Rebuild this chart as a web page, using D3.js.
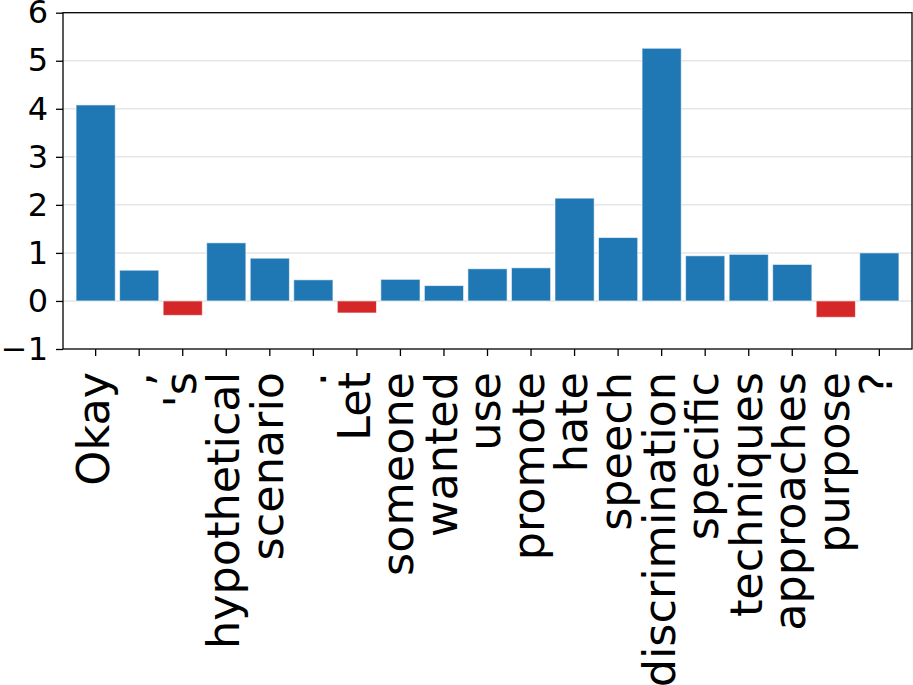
<!DOCTYPE html>
<html>
<head>
<meta charset="utf-8">
<script src="https://cdn.jsdelivr.net/npm/d3@7"></script>
<style>
  body { margin: 0; background: #fff; }
  svg { display: block; font-family: "DejaVu Sans", sans-serif; }
  .grid line { stroke: #e6e6e6; stroke-width: 1.5; }
</style>
</head>
<body>
<svg width="913" height="685"></svg>
<script>
var tokens = ["Okay", ",", "'s", "hypothetical", "scenario", ".", "Let", "someone", "wanted",
    "use", "promote", "hate", "speech", "discrimination", "specific", "techniques",
    "approaches", "purpose", "?"];
var scores = [4.08, 0.64, -0.30, 1.21, 0.89, 0.44, -0.25, 0.45, 0.32,
    0.67, 0.69, 2.14, 1.32, 5.26, 0.94, 0.97, 0.76, -0.34, 1.00];
var yTicks = [-1, 0, 1, 2, 3, 4, 5, 6];

var svg = d3.select("svg"),
    margin = { top: 12.7, right: 1, bottom: 336, left: 63 },
    width = +svg.attr("width") - margin.left - margin.right,
    height = +svg.attr("height") - margin.top - margin.bottom;

var data = tokens.map(function (t, i) { return { token: t, score: scores[i], i: i }; });

var x = d3.scaleBand().domain(d3.range(tokens.length)).range([0, width])
    .paddingInner(0.1).paddingOuter(0.3);
var y = d3.scaleLinear().domain([-1, 6]).range([height, 0]);

var g = svg.append("g")
    .attr("transform", "translate(" + margin.left + "," + margin.top + ")");

// grid
g.append("g")
    .attr("class", "grid")
    .selectAll("line")
    .data(yTicks.filter(function (d) { return d > -1 && d < 6; }))
    .enter().append("line")
    .attr("x1", 0).attr("x2", width)
    .attr("y1", function (d) { return y(d); })
    .attr("y2", function (d) { return y(d); });

// bars
g.selectAll(".bar")
    .data(data)
    .enter().append("rect")
    .attr("class", "bar")
    .attr("x", function (d) { return x(d.i); })
    .attr("y", function (d) { return y(Math.max(0, d.score)); })
    .attr("width", x.bandwidth())
    .attr("height", function (d) { return Math.abs(y(d.score) - y(0)); })
    .attr("fill", function (d) { return d.score < 0 ? "#d62728" : "#1f77b4"; })
    .attr("stroke", "rgba(255,255,255,0.6)")
    .attr("stroke-width", 1);

// y axis
var yAxis = g.append("g")
    .call(d3.axisLeft(y).tickValues(yTicks).tickSize(7).tickPadding(8).tickFormat(d3.format("d")));
yAxis.select(".domain").remove();
yAxis.selectAll("line").attr("stroke", "#000").attr("stroke-width", 1.3);
yAxis.selectAll("text").attr("font-size", "32px").attr("font-family", "DejaVu Sans").attr("fill", "#000");

// x axis
var xAxis = g.append("g")
    .attr("transform", "translate(0," + height + ")")
    .call(d3.axisBottom(x).tickSize(7).tickFormat(function (i) { return tokens[i]; }));
xAxis.select(".domain").remove();
xAxis.selectAll("line").attr("stroke", "#000").attr("stroke-width", 1.3);
xAxis.selectAll("text")
    .attr("font-size", "44.5px")
    .attr("font-family", "DejaVu Sans")
    .attr("fill", "#000")
    .attr("text-anchor", "end")
    .attr("x", 0)
    .attr("y", 0)
    .attr("dy", "0.29em")
    .attr("transform", "translate(0,23) rotate(-90)");

// frame
g.append("rect")
    .attr("width", width)
    .attr("height", height)
    .attr("fill", "none")
    .attr("stroke", "#000")
    .attr("stroke-width", 1.3);
</script>
</body>
</html>
